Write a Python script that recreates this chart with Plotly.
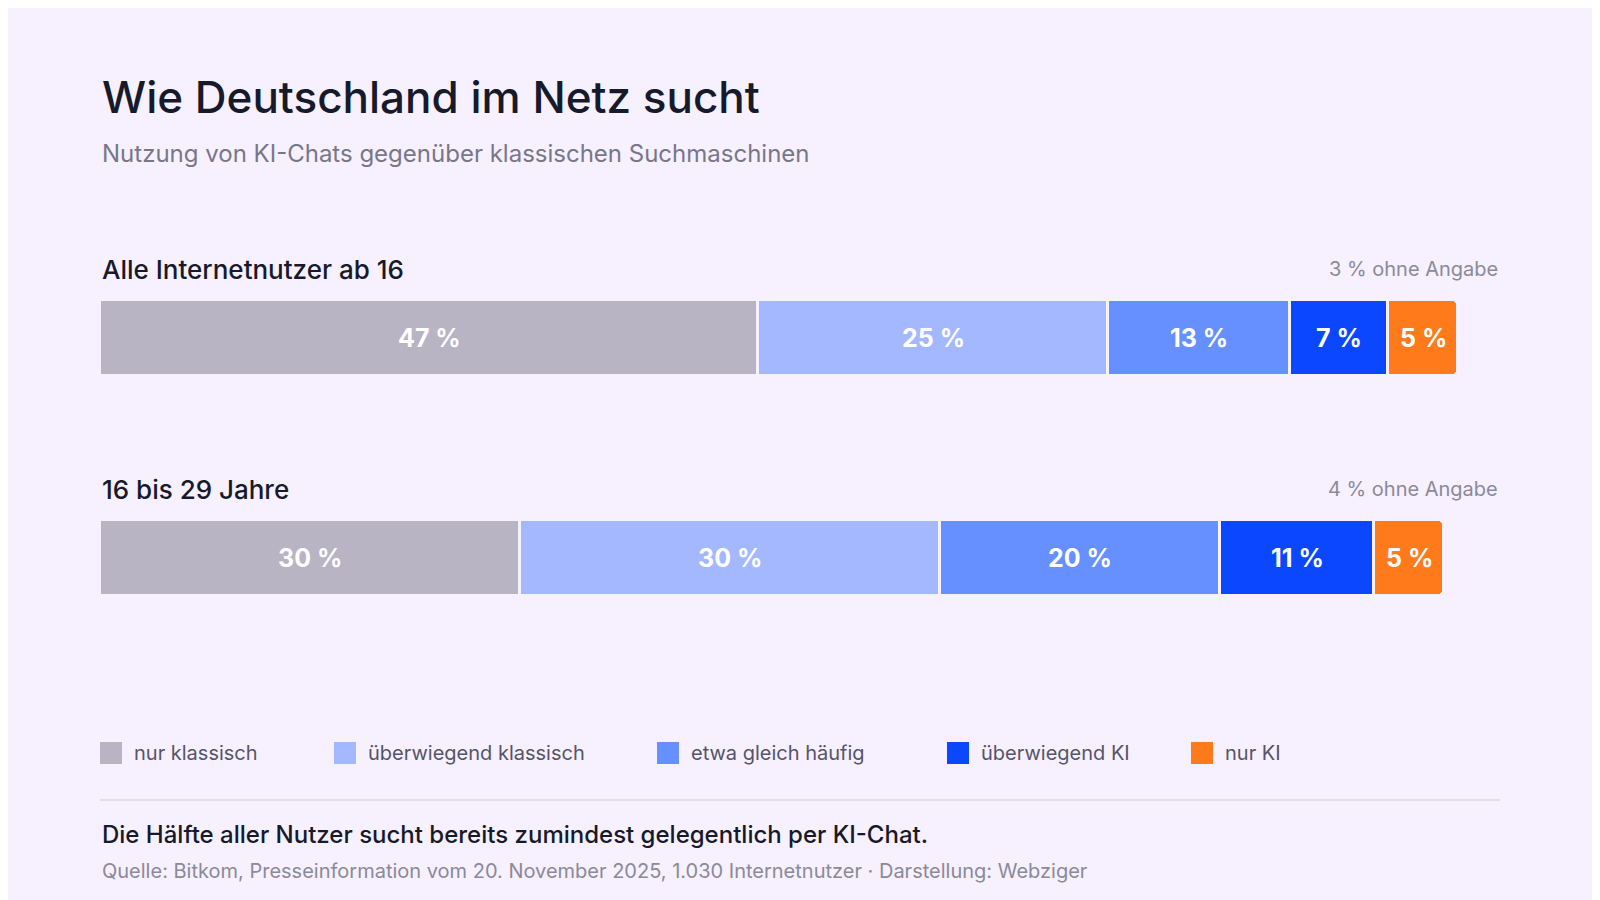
import plotly.graph_objects as go

groups = ["Alle Internetnutzer ab 16", "16 bis 29 Jahre"]
no_answer = ["3 % ohne Angabe", "4 % ohne Angabe"]
categories = ["nur klassisch", "überwiegend klassisch", "etwa gleich häufig", "überwiegend KI", "nur KI"]
colors = ["#b8b4c4", "#a3b8ff", "#6690ff", "#0a47ff", "#ff7a1a"]
values = {
    "nur klassisch": [47, 30],
    "überwiegend klassisch": [25, 30],
    "etwa gleich häufig": [13, 20],
    "überwiegend KI": [7, 11],
    "nur KI": [5, 5],
}

BG = "#f7f0fe"
FONT = "Inter, Roboto, sans-serif"
OFF = 8  # page body margin
bar_y = [338 - OFF, 558 - OFF]
label_y = [269 - OFF, 489 - OFF]

fig = go.Figure()
ann = []

def txt(x, y, s, size, color, weight=400, xanchor="left", xref="paper"):
    ann.append(dict(x=x, y=y, xref=xref, yref="y", text=s, showarrow=False,
                    xanchor=xanchor, yanchor="middle",
                    font=dict(size=size, color=color, family=FONT, weight=weight)))

base = [0, 0]
for cat, col in zip(categories, colors):
    fig.add_trace(go.Bar(
        x=values[cat], y=bar_y, orientation="h", width=76,
        marker=dict(color=col, line=dict(color=BG, width=3)),
        name=cat, hoverinfo="skip",
    ))
    for i, v in enumerate(values[cat]):
        txt(base[i] + v / 2, bar_y[i], f"{v} %", 25, "white", 700, "center", "x")
        base[i] += v

txt(0, 97 - OFF, "Wie Deutschland im Netz sucht", 44, "#161a2a", 500)
txt(0, 153 - OFF, "Nutzung von KI-Chats gegenüber klassischen Suchmaschinen", 24, "#77778a")
for g, na, y in zip(groups, no_answer, label_y):
    txt(0, y, g, 26, "#161a2a", 500)
    txt(1, y, na, 20, "#8a8a9a", xanchor="right")

leg_x = [100, 334, 657, 947, 1191]
shapes = []
for cat, col, lx in zip(categories, colors, leg_x):
    shapes.append(dict(type="rect", xref="paper", yref="y",
                       x0=(lx - 100) / 1400, x1=(lx - 78) / 1400, y0=742 - OFF, y1=764 - OFF,
                       fillcolor=col, line=dict(width=0)))
    txt((lx - 68) / 1400, 753 - OFF, cat, 20, "#55556a")
shapes.append(dict(type="line", xref="paper", yref="y", x0=0, x1=1, y0=800 - OFF, y1=800 - OFF,
                   line=dict(color="#dcd6e4", width=1.5)))
txt(0, 834 - OFF, "Die Hälfte aller Nutzer sucht bereits zumindest gelegentlich per KI-Chat.", 24, "#161a2a", 500)
txt(0, 871 - OFF, "Quelle: Bitkom, Presseinformation vom 20. November 2025, 1.030 Internetnutzer · Darstellung: Webziger", 20, "#8a8a9a")

fig.update_layout(
    width=1600 - OFF, height=900 - OFF, barmode="stack", barcornerradius=6,
    paper_bgcolor=BG, plot_bgcolor=BG, showlegend=False,
    margin=dict(l=100 - OFF, r=100, t=0, b=0), bargap=0,
    xaxis=dict(range=[0, 100], visible=False, fixedrange=True),
    yaxis=dict(range=[900 - OFF, 0], visible=False, fixedrange=True),
    annotations=ann, shapes=shapes,
)
fig.write_html("out.html")
